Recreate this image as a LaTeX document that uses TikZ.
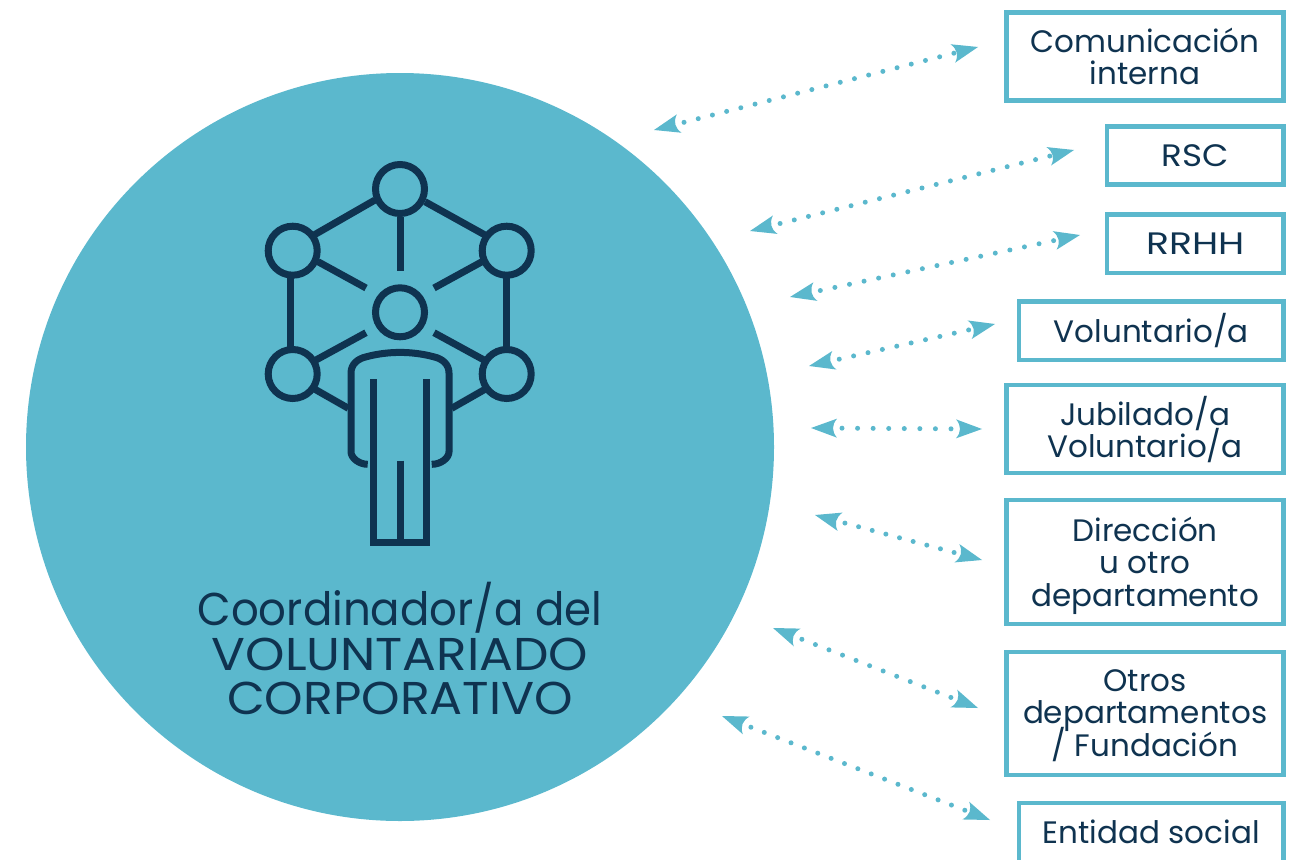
\documentclass[tikz,border=0pt]{standalone}
\usepackage{fontspec}
\setmainfont{Poppins}
\newfontfamily\fA[FakeStretch=0.945]{Poppins}
\newfontfamily\fB[FakeStretch=1.09]{Poppins}
\newfontfamily\fC[FakeStretch=1.065]{Poppins}
\newfontfamily\fD[FakeStretch=1.1]{Poppins}
\newfontfamily\fE[FakeStretch=1.22]{Poppins}
\usetikzlibrary{arrows.meta}
\definecolor{teal}{HTML}{5BB8CD}
\definecolor{navy}{HTML}{0F3350}
\normallineskiplimit=-100pt
\lineskiplimit=-100pt
\AtBeginDocument{\normallineskiplimit=-100pt \lineskiplimit=-100pt }
\pgfdeclarearrow{
  name=CurvedHead,
  setup code={
    \pgfarrowssettipend{26pt}
    \pgfarrowssetbackend{0pt}
    \pgfarrowssetvisualbackend{4pt}
    \pgfarrowssetlineend{1.5pt}
    \pgfarrowshullpoint{26pt}{0pt}
    \pgfarrowsupperhullpoint{0pt}{9.5pt}
  },
  drawing code={
    \pgfsetfillcolor{teal}
    \pgfpathmoveto{\pgfqpoint{26pt}{0pt}}
    \pgfpathlineto{\pgfqpoint{0pt}{9.5pt}}
    \pgfpathquadraticcurveto{\pgfqpoint{8pt}{0pt}}{\pgfqpoint{0pt}{-9.5pt}}
    \pgfpathclose
    \pgfusepathqfill
  }
}
\tikzset{
  boxnode/.style={draw=teal,line width=4.5pt,fill=white,text=navy,align=center,
    font=\fontsize{31}{32.5}\selectfont,inner sep=0pt,outer sep=0pt,anchor=north west},
  link/.style={draw=teal,line width=5pt,line cap=round,{CurvedHead}-{CurvedHead}},
  icon/.style={draw=navy,line width=7pt},
  hub/.style={icon,circle,minimum size=49pt,inner sep=0pt}
}
\begin{document}
\begin{tikzpicture}[x=1pt,y=-1pt]
\useasboundingbox (0,0) rectangle (1300,859);
\node[circle,fill=teal,minimum size=748pt,inner sep=0pt] (main) at (400,447) {};
% boxes
\node[boxnode,minimum width=277.2pt,minimum height=88pt,text depth=-3pt] (b1) at (1006.5,12.5) {Comunicación\\interna};
\node[boxnode,minimum width=176.7pt,minimum height=58pt] (b2) at (1107,126.5) {\fD RSC};
\node[boxnode,minimum width=176.7pt,minimum height=58.5pt,text depth=-2pt] (b3) at (1107,214.5) {\fE RRHH};
\node[boxnode,minimum width=264.7pt,minimum height=58.7pt] (b4) at (1019,301.3) {Voluntario/a};
\node[boxnode,minimum width=277.2pt,minimum height=88pt,text depth=4pt] (b5) at (1006.5,385) {Jubilado/a\\Voluntario/a};
\node[boxnode,minimum width=277.2pt,minimum height=124pt,text depth=0.5pt] (b6) at (1006.5,500) {Dirección\\u otro\\departamento};
\node[boxnode,minimum width=277.2pt,minimum height=123pt,text depth=1pt] (b7) at (1006.5,652) {Otros\\departamentos\\/ Fundación};
\node[boxnode,minimum width=264.7pt,minimum height=60pt,text depth=2pt] (b8) at (1019,803) {Entidad social};
% connector ends
\coordinate (a1) at (654,130); \coordinate (c1) at (978,47);
\coordinate (a2) at (750,231); \coordinate (c2) at (1074,150);
\coordinate (a3) at (790,297); \coordinate (c3) at (1080,235);
\coordinate (a4) at (809,366); \coordinate (c4) at (995,324);
\coordinate (a5) at (811,428); \coordinate (c5) at (982,429);
\coordinate (a6) at (815,515); \coordinate (c6) at (982,560);
\coordinate (a7) at (773,628); \coordinate (c7) at (978,708);
\coordinate (a8) at (722,716); \coordinate (c8) at (990,820);
\foreach \i/\s/\p in {1/14.66/8.16,2/14.63/8.13,3/14.91/8.41,4/14.74/8.24,5/15.57/9.07,6/14.13/7.63,7/14.54/8.04,8/14.34/7.84}
  \draw[link,dash pattern=on 0pt off \s pt,dash phase=\p pt] (a\i) -- (c\i);
% icon hubs
\node[hub] (n1) at (400,189) {};
\node[hub] (n2) at (292.7,250.7) {};
\node[hub] (n3) at (506.7,250.7) {};
\node[hub] (n4) at (400,312.3) {};
\node[hub] (n5) at (292.7,374) {};
\node[hub] (n6) at (506.7,374) {};
% icon spokes
\draw[icon] (375,200) -- (314,235);
\draw[icon] (425,201.7) -- (485,235);
\draw[icon] (400,216.7) -- (400,270.7);
\draw[icon] (318,261.7) -- (366,288);
\draw[icon] (482,261.7) -- (434,288);
\draw[icon] (366,332.7) -- (316,360);
\draw[icon] (434,332.7) -- (484,360);
\draw[icon] (290,276.7) -- (290,346.7);
\draw[icon] (506.7,276.7) -- (506.7,346.7);
\draw[icon] (315,389.3) -- (348.3,408.3);
\draw[icon] (485,389.3) -- (451.7,408.3);
% figure
\draw[icon] (367.7,464.3) .. controls (359,464.3) and (351,458) .. (351,451.7)
  -- (351,373) .. controls (351,364) and (358,358.5) .. (366.7,356.7)
  .. controls (388,351) and (412,351) .. (433.3,356.7)
  .. controls (442,358.5) and (449,364) .. (449,373)
  -- (449,451.7) .. controls (449,458) and (441,464.3) .. (431.7,464.3);
\draw[icon,miter limit=10] (373.3,379.3) -- (373.3,542.3) -- (426.3,542.3) -- (426.3,379.3);
\draw[icon] (400,460.7) -- (400,542.3);
% title
\node[text=navy,align=center,font=\fontsize{46}{44.5}\selectfont,inner sep=0pt] (title) at (400,648.5) {{\fA Coordinador/a del}\\{\fB VOLUNTARIADO}\\{\fC CORPORATIVO}};
\end{tikzpicture}
\end{document}
